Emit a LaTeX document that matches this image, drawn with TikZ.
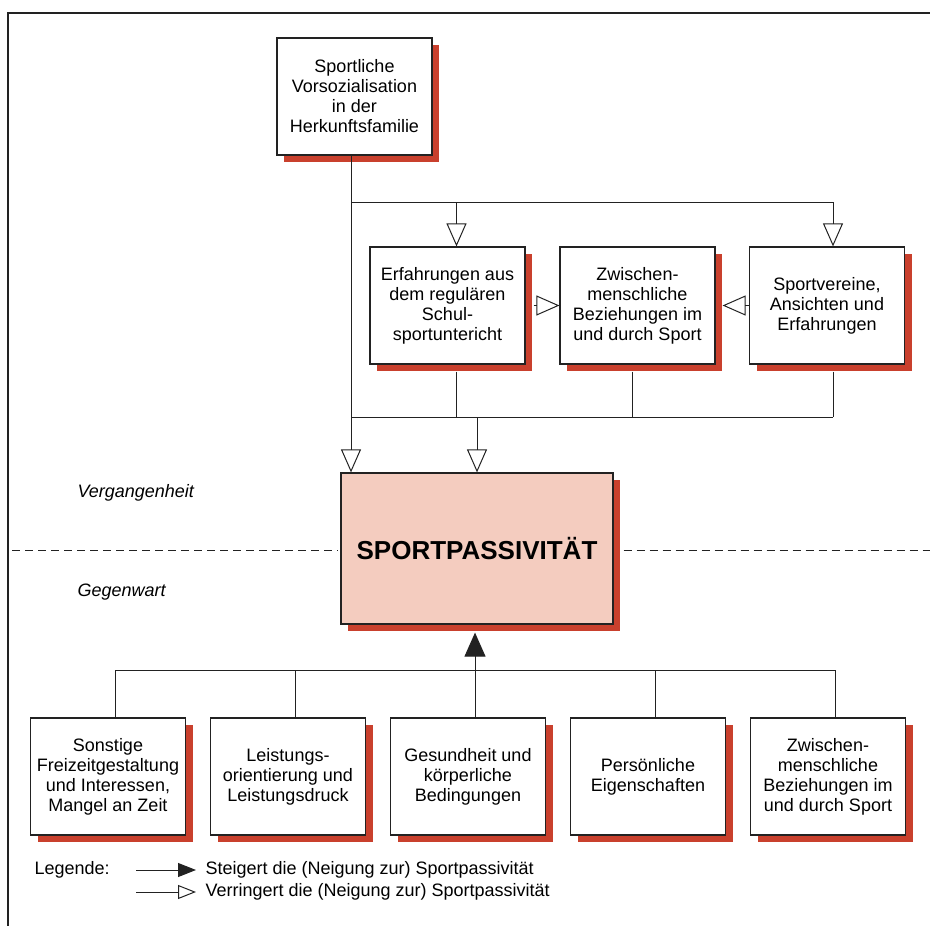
\documentclass[tikz,border=0pt]{standalone}
\usepackage{fontspec}
\setmainfont{Liberation Sans}
\usetikzlibrary{arrows.meta,shadows}

\definecolor{shadowred}{HTML}{C9402D}
\definecolor{passivepink}{HTML}{F4CCBF}
\definecolor{inkgray}{HTML}{222222}

\tikzset{
    box/.style={draw=inkgray, line width=1.2pt, fill=white, align=center,
        minimum width=155pt, minimum height=117pt, inner sep=2pt,
        font=\fontsize{18}{20}\selectfont,
        general shadow={fill=shadowred, shadow xshift=7pt, shadow yshift=-7pt}},
    link/.style={draw=inkgray, line width=1pt},
    lower/.style={link, -{Triangle[open, length=23pt, width=20pt, line width=1pt]}},
    raise/.style={link, -{Triangle[length=24pt, width=21pt]}},
    era/.style={anchor=west, font=\fontsize{18}{20}\selectfont\itshape},
    legend/.style={anchor=west, font=\fontsize{18}{20}\selectfont},
}

\begin{document}
\begin{tikzpicture}[x=1pt, y=-1pt]

            % the frame
            \useasboundingbox (0,0) rectangle (930,926);
            \draw[inkgray, line width=1.5pt] (930,13) -- (8,13) -- (8,926);

            % the past
            \node[box] (origin) at (354.5,96.5) {Sportliche\\Vorsozialisation\\in der\\Herkunftsfamilie};
            \node[box] (school) at (447.5,305.5) {Erfahrungen aus\\dem regulären\\Schul-\\sportuntericht};
            \node[box] (social) at (637.5,305.5) {Zwischen-\\menschliche\\Beziehungen im\\und durch Sport};
            \node[box] (club) at (827,305.5) {Sportvereine,\\Ansichten und\\Erfahrungen};

            % the centre
            \node[box, fill=passivepink, minimum width=272pt, minimum height=151pt,
                font=\fontsize{26}{28}\selectfont\bfseries] (passive) at (477,548.5) {SPORTPASSIVITÄT};

            % the present
            \foreach \text [count=\i] in {{Sonstige\\Freizeitgestaltung\\und Interessen,\\Mangel an Zeit},
                    {Leistungs-\\orientierung und\\Leistungsdruck},
                    {Gesundheit und\\körperliche\\Bedingungen},
                    {Persönliche\\Eigenschaften},
                    {Zwischen-\\menschliche\\Beziehungen im\\und durch Sport}} {
                \node[box] (now\i) at ({180*\i-72},776.5) {\text};
            }

            % past links
            \coordinate (fork) at (351,202);
            \coordinate (join) at (351,417);
            \draw[lower] (origin.south -| fork) -- (passive.north -| fork);
            \draw[link] (fork) -- ([xshift=6pt]club.north |- fork);
            \draw[lower] ([xshift=9pt]school.north |- fork) -- ([xshift=9pt]school.north);
            \draw[lower] ([xshift=6pt]club.north |- fork) -- ([xshift=6pt]club.north);
            \draw[lower] ([xshift=8pt]school.east) -- (social.west);
            \draw[lower] (club.west) -- ([xshift=7pt]social.east);
            \foreach \from/\dx in {school/9, social/-5, club/6} {
                \draw[link] ([xshift=\dx pt, yshift=-7pt]\from.south) -- ([xshift=\dx pt]\from.south |- join);
            }
            \draw[link] (join) -- ([xshift=6pt]club.south |- join);
            \draw[lower] (passive.north |- join) -- (passive.north);

            % the border between
            \coordinate (line) at (12,550);
            \coordinate (lineend) at (930,550);
            \draw[link, dash pattern=on 8pt off 5pt] (line) -- ([xshift=-3pt]passive.west |- line);
            \draw[link, dash pattern=on 8pt off 5pt] ([xshift=10pt]passive.east |- line) -- (lineend);
            \node[era] (past) at (74,493) {Vergangenheit};
            \node[era] (present) at (74,592) {Gegenwart};

            % present links
            \coordinate (bus) at (475,670);
            \foreach \i in {1,...,5} {
                \draw[link] ([xshift=7pt]now\i.north) -- ([xshift=7pt]now\i.north |- bus);
            }
            \draw[link] ([xshift=7pt]now1.north |- bus) -- ([xshift=7pt]now5.north |- bus);
            \draw[raise] ([xshift=7pt]now3.north |- bus) -- ([xshift=7pt, yshift=-8pt]now3.north |- passive.south);

            % legend
            \node[legend] (legend) at (31,870) {Legende:};
            \node[legend] (more) at (202,870) {Steigert die (Neigung zur) Sportpassivität};
            \node[legend] (less) at (202,892) {Verringert die (Neigung zur) Sportpassivität};
            \draw[link, -{Triangle[length=18pt, width=14pt]}] ([xshift=-66pt]more.west) -- ([xshift=-6pt]more.west);
            \draw[link, -{Triangle[open, length=18pt, width=14pt, line width=1pt]}] ([xshift=-66pt]less.west) -- ([xshift=-6pt]less.west);
        \end{tikzpicture}
\end{document}
